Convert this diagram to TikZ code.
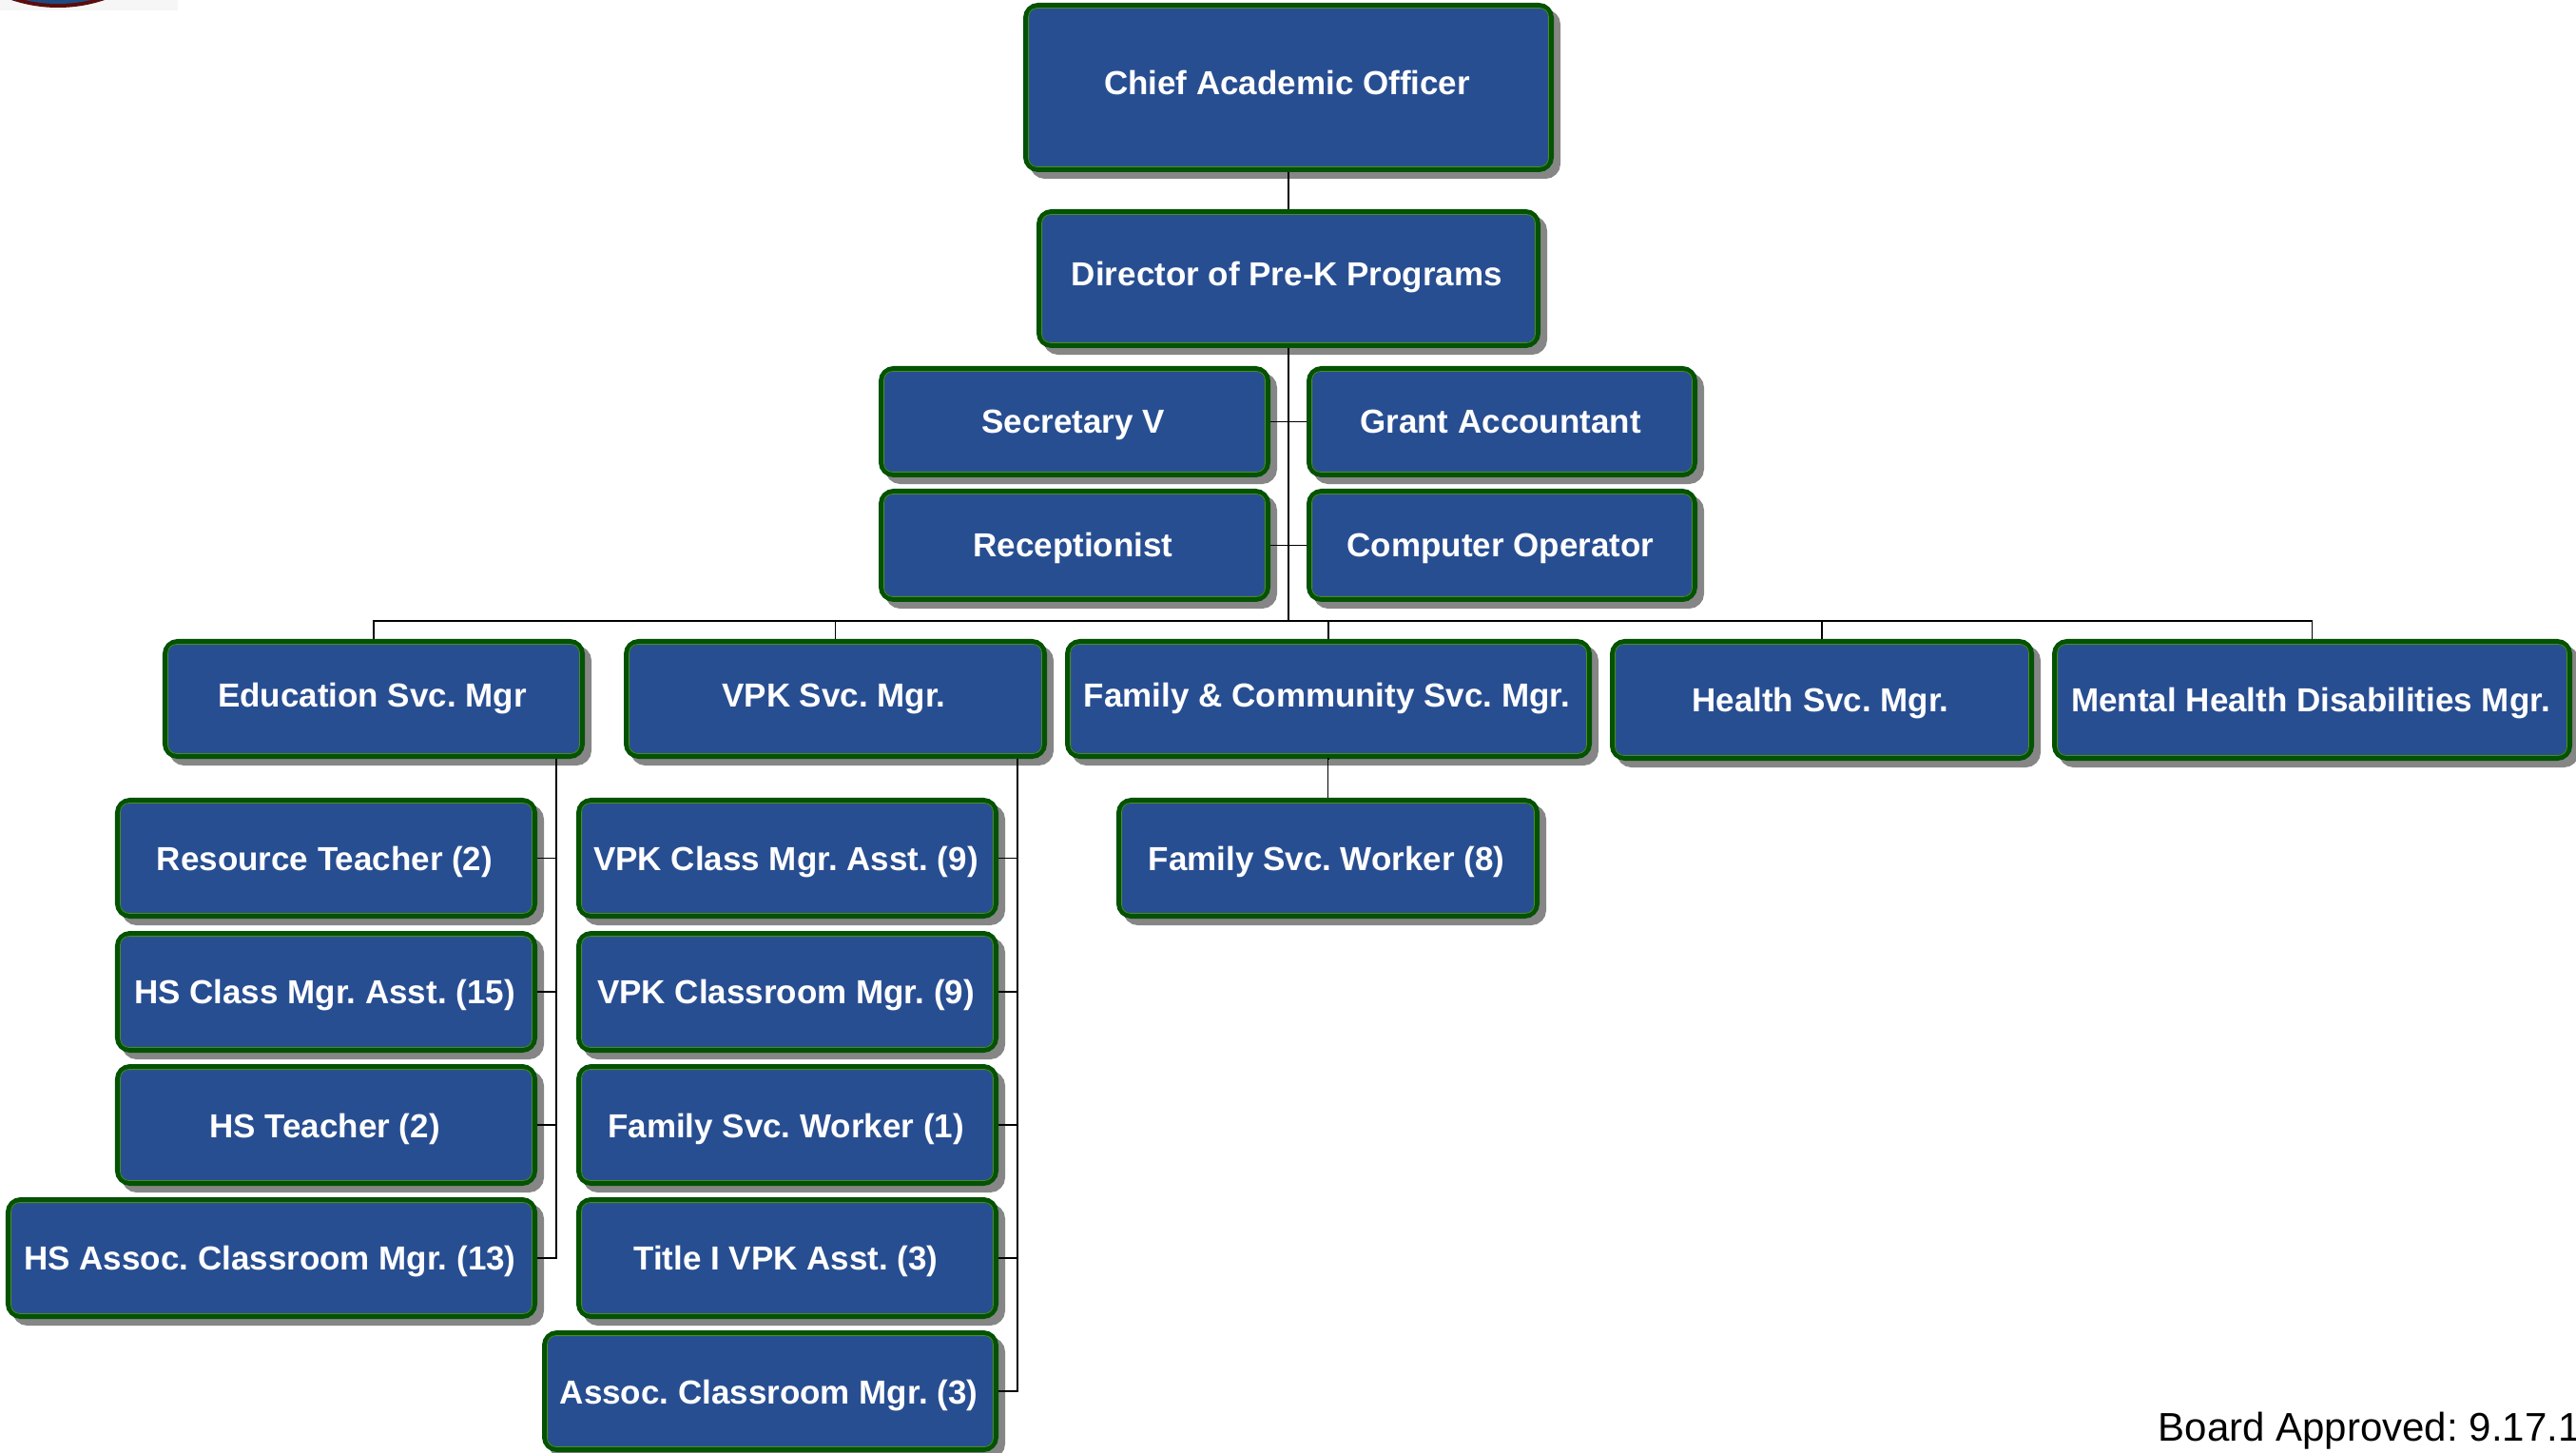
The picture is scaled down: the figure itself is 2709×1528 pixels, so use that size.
\documentclass[tikz,border=0pt]{standalone}
\usepackage{fontspec}
\setmainfont{Liberation Sans}
\usetikzlibrary{shadows,calc}
\definecolor{boxblue}{HTML}{284E92}
\definecolor{boxgreen}{HTML}{045204}
\definecolor{innergreen}{HTML}{4C8C24}
\definecolor{shadowgray}{HTML}{868686}
\definecolor{logored}{HTML}{5A0C0C}
\definecolor{logoblue}{HTML}{1F4A80}
\definecolor{logopale}{HTML}{F6F6F6}
\tikzset{
  orgnode/.style={draw=boxgreen,fill=boxblue,line width=0.055cm,rounded corners=0.13cm,
    inner sep=0pt,text=white,align=center,
    font=\frenchspacing\fontsize{9.95}{11}\selectfont\bfseries,
    drop shadow={shadow xshift=0.07cm,shadow yshift=-0.07cm,fill=shadowgray,draw=shadowgray,opacity=1}},
  innerline/.style={draw=innergreen,line width=0.008cm,rounded corners=0.09cm},
  link/.style={draw=black,line width=0.018cm},
  note/.style={font=\frenchspacing\fontsize{11.95}{14}\selectfont,text=black,inner sep=0pt,anchor=base west}
}
% name, x0, y0, x1, y1, baseline y, text
\newcommand{\orgbox}[7]{%
  \pgfmathsetmacro{\bxc}{(#2+#4)/2}%
  \pgfmathsetmacro{\byc}{(#3+#5)/2}%
  \pgfmathsetmacro{\bw}{(#4-#2-5.5)*0.01}%
  \pgfmathsetmacro{\bth}{(#6-#3-2.75)*0.01}%
  \pgfmathsetmacro{\btd}{(#5-2.75-#6)*0.01}%
  \node[orgnode,minimum width=\bw cm,text height=\bth cm,text depth=\btd cm] (#1) at (\bxc,\byc) {#7\kern0.03cm};
  \draw[innerline] ([shift={(5.6,5.6)}]#1.north west) rectangle ([shift={(-5.6,-5.6)}]#1.south east);
}
\begin{document}
\begin{tikzpicture}[x=0.01cm,y=-0.01cm]
\useasboundingbox (0,0) rectangle (2709,1528);
% logo fragment
\begin{scope}
  \clip (0,0) rectangle (187,11);
  \fill[logopale] (0,0) rectangle (187,11);
  \fill[logored] (61,-146) circle (154);
  \fill[logoblue] (61,-146) circle (150);
\end{scope}
% boxes
\orgbox{chief}{1076}{3}{1634}{181}{100}{Chief Academic Officer}
\orgbox{director}{1090}{220}{1620}{366}{300.5}{Director of Pre-K Programs}
\orgbox{secretary}{924}{385}{1336}{502}{456}{Secretary V}
\orgbox{grant}{1374}{385}{1785}{502}{456}{Grant Accountant}
\orgbox{receptionist}{924}{514}{1336}{633}{586}{Receptionist}
\orgbox{computer}{1374}{514}{1785}{633}{586}{Computer Operator}
\orgbox{education}{171}{672}{615}{798}{743}{Education Svc. Mgr}
\orgbox{vpksvc}{656}{672}{1101}{798}{743}{VPK Svc. Mgr.}
\orgbox{family}{1120}{672}{1674}{798}{743}{Family \& Community Svc. Mgr.}
\orgbox{health}{1693}{672}{2139}{800}{748}{Health Svc. Mgr.}
\orgbox{mental}{2158}{672}{2705}{800}{748}{Mental Health Disabilities Mgr.}
\orgbox{resource}{121}{839}{565}{966}{915}{Resource Teacher (2)}
\orgbox{vpkclass}{606}{839}{1050}{966}{915}{VPK Class Mgr. Asst. (9)}
\orgbox{fsweight}{1174}{839}{1619}{966}{915}{Family Svc. Worker (8)}
\orgbox{hsclass}{121}{979}{565}{1107}{1055}{HS Class Mgr. Asst. (15)}
\orgbox{vpkroom}{606}{979}{1050}{1107}{1055}{VPK Classroom Mgr. (9)}
\orgbox{hsteacher}{121}{1119}{565}{1247}{1196}{HS Teacher (2)}
\orgbox{fsone}{606}{1119}{1050}{1247}{1196}{Family Svc. Worker (1)}
\orgbox{hsassoc}{6}{1259}{565}{1387}{1335}{HS Assoc. Classroom Mgr. (13)}
\orgbox{title}{606}{1259}{1050}{1387}{1335}{Title I VPK Asst. (3)}
\orgbox{assoc}{570}{1399}{1050}{1527}{1476}{Assoc. Classroom Mgr. (3)}
% connector junctions
\coordinate (bus) at (1355,653);
\coordinate (edudrop) at (585,798);
\coordinate (vpkdrop) at (1070,798);
% connectors
\draw[link] (chief.south -| director.north) -- (director.north);
\draw[link] (director.south) -- (director.south |- bus);
\draw[link] (secretary.east) -- (grant.west);
\draw[link] (receptionist.east) -- (computer.west);
\draw[link] (education.north) |- (bus) -| (mental.north);
\draw[link] (vpksvc.north) -- (vpksvc.north |- bus);
\draw[link] (family.north) -- (family.north |- bus);
\draw[link] (health.north) -- (health.north |- bus);
\draw[link] (family.south) -- (family.south -| fsweight.north) -- (fsweight.north);
\draw[link] (edudrop) |- (hsassoc.east);
\draw[link] (resource.east) -- (resource.east -| edudrop);
\draw[link] (hsclass.east) -- (hsclass.east -| edudrop);
\draw[link] (hsteacher.east) -- (hsteacher.east -| edudrop);
\draw[link] (vpkdrop) |- (assoc.east);
\draw[link] (vpkclass.east) -- (vpkclass.east -| vpkdrop);
\draw[link] (vpkroom.east) -- (vpkroom.east -| vpkdrop);
\draw[link] (fsone.east) -- (fsone.east -| vpkdrop);
\draw[link] (title.east) -- (title.east -| vpkdrop);
% note
\node[note] (approved) at (2269,1515) {Board Approved: 9.17.19};
\end{tikzpicture}
\end{document}
